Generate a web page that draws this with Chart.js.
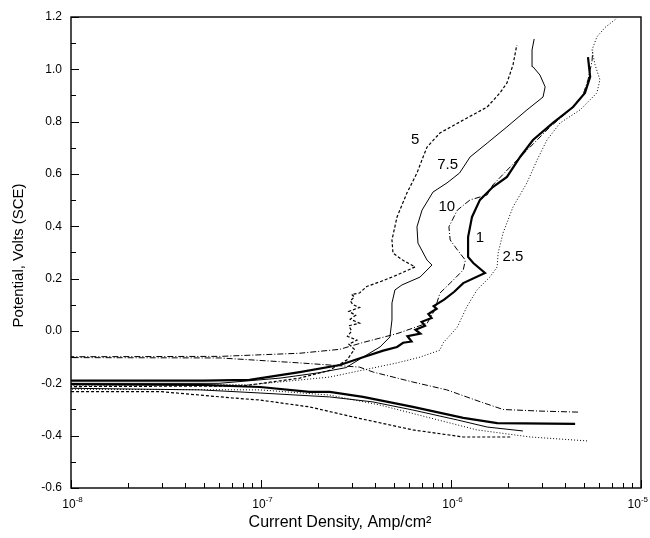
<!DOCTYPE html>
<html>
<head>
<meta charset="utf-8">
<script src="https://cdn.jsdelivr.net/npm/chart.js@4/dist/chart.umd.min.js"></script>
<style>
  html, body { margin: 0; padding: 0; background: #fff; }
</style>
</head>
<body>
<canvas id="polar" width="650" height="538"></canvas>
<script>
// potentiodynamic curves: current density (A/cm2) vs potential (V vs SCE)
// each curve runs from the end of the cathodic tail, off the left edge, then up the anodic branch
let c1I = [4.5e-6, 1.75e-6, 1.16e-6, 6.3e-7, 3.44e-7, 2.3e-7, 1.8e-7, 9.9e-8, 4.8e-8, 1e-9,
    1e-9, 5e-8, 8.7e-8, 1.6e-7, 2.6e-7, 3.44e-7, 4.4e-7, 5.2e-7, 5.6e-7, 6.2e-7, 5.9e-7, 6.9e-7,
    6.5e-7, 7.3e-7, 7.0e-7, 7.9e-7, 7.6e-7, 8.4e-7, 8.1e-7, 9.2e-7, 1.04e-6, 1.16e-6, 1.51e-6,
    1.31e-6, 1.23e-6, 1.23e-6, 1.26e-6, 1.29e-6, 1.42e-6, 1.66e-6, 1.97e-6, 2.31e-6, 2.7e-6,
    3.44e-6, 4.39e-6, 5.07e-6, 5.4e-6, 5.26e-6];
let c1V = [-0.355, -0.352, -0.332, -0.29, -0.252, -0.233, -0.233, -0.214, -0.206, -0.2,
    -0.19, -0.19, -0.187, -0.157, -0.13, -0.1, -0.075, -0.061, -0.045, -0.04, -0.02, -0.01,
    0.005, 0.02, 0.035, 0.05, 0.065, 0.085, 0.095, 0.12, 0.15, 0.183, 0.222,
    0.26, 0.283, 0.359, 0.398, 0.436, 0.501, 0.55, 0.589, 0.665, 0.73,
    0.795, 0.856, 0.91, 0.971, 1.047];

let c25I = [5.2e-6, 2.61e-6, 1.37e-6, 7.75e-7, 4.23e-7, 2.3e-7, 9.9e-8, 1e-9,
    1e-9, 9e-8, 2.3e-7, 5.2e-7, 6.87e-7, 8.75e-7, 9.08e-7, 1.08e-6, 1.21e-6, 1.37e-6, 1.6e-6,
    1.75e-6, 1.77e-6, 1.88e-6, 2.12e-6, 2.51e-6, 2.84e-6, 3.2e-6, 3.75e-6, 4.78e-6, 5.86e-6,
    6.08e-6, 5.73e-6, 5.52e-6, 5.86e-6, 6.47e-6, 7.48e-6];
let c25V = [-0.42, -0.405, -0.378, -0.332, -0.283, -0.245, -0.225, -0.22,
    -0.21, -0.205, -0.176, -0.122, -0.1, -0.073, -0.046, 0.015, 0.092, 0.157, 0.206,
    0.245, 0.298, 0.375, 0.474, 0.566, 0.654, 0.73, 0.795, 0.845, 0.91,
    0.96, 1.017, 1.074, 1.124, 1.16, 1.196];

let c5I = [2.05e-6, 1.16e-6, 6.3e-7, 3.2e-7, 1.8e-7, 9.9e-8, 7.1e-8, 4.8e-8, 3e-8, 1e-9,
    1e-9, 8e-8, 1.6e-7, 2.3e-7, 2.84e-7, 3.1e-7, 2.9e-7, 3.2e-7, 2.85e-7, 3.0e-7, 2.9e-7,
    3.3e-7, 2.95e-7, 3.15e-7, 2.9e-7, 3.3e-7, 3.05e-7, 2.95e-7, 3.1e-7, 3.0e-7, 3.3e-7,
    3.6e-7, 4.3e-7, 5.2e-7, 6.47e-7, 5.59e-7, 4.95e-7, 4.89e-7, 5.2e-7, 5.86e-7, 6.62e-7,
    7.13e-7, 7.48e-7, 8.75e-7, 1.16e-6, 1.55e-6, 1.81e-6, 1.97e-6, 2.12e-6, 2.22e-6];
let c5V = [-0.405, -0.405, -0.378, -0.332, -0.29, -0.264, -0.256, -0.245, -0.232, -0.23,
    -0.215, -0.21, -0.18, -0.15, -0.11, -0.07, -0.05, -0.035, -0.02, 0.0, 0.02,
    0.03, 0.045, 0.06, 0.075, 0.09, 0.1, 0.115, 0.13, 0.14, 0.145,
    0.17, 0.19, 0.214, 0.245, 0.27, 0.298, 0.348, 0.436, 0.527, 0.604,
    0.665, 0.703, 0.757, 0.806, 0.856, 0.91, 0.948, 1.017, 1.093];

let c75I = [2.39e-6, 1.55e-6, 1.08e-6, 6.3e-7, 3.88e-7, 2.3e-7, 9.9e-8, 4.8e-8, 1e-9,
    1e-9, 6e-8, 1.26e-7, 2.0e-7, 2.8e-7, 3.44e-7, 4.23e-7, 4.77e-7, 4.89e-7, 4.89e-7, 5.07e-7,
    5.52e-7, 6.87e-7, 7.94e-7, 7.48e-7, 6.7e-7, 6.62e-7, 7.04e-7, 8.04e-7, 9.53e-7, 1.11e-6,
    1.26e-6, 1.55e-6, 1.97e-6, 2.51e-6, 3.05e-6, 3.13e-6, 2.94e-6, 2.7e-6, 2.67e-6, 2.74e-6];
let c75V = [-0.382, -0.367, -0.34, -0.302, -0.271, -0.252, -0.237, -0.225, -0.21,
    -0.2, -0.2, -0.18, -0.16, -0.14, -0.1, -0.061, -0.023, 0.042, 0.107, 0.157,
    0.176, 0.206, 0.252, 0.271, 0.336, 0.398, 0.462, 0.531, 0.566, 0.604,
    0.665, 0.718, 0.78, 0.845, 0.894, 0.933, 0.978, 1.01, 1.074, 1.116];

let c10I = [4.66e-6, 2.94e-6, 1.88e-6, 1.42e-6, 9.5e-7, 6.3e-7, 3.9e-7, 3.3e-7, 1.6e-7, 6.1e-8, 1e-9,
    1e-9, 6.1e-8, 1.6e-7, 2.6e-7, 3.4e-7, 5.2e-7, 7.5e-7, 8.2e-7, 8.75e-7, 9.9e-7, 1.16e-6,
    1.19e-6, 1.08e-6, 9.9e-7, 9.75e-7, 1.08e-6, 1.26e-6, 1.55e-6, 1.66e-6, 2.05e-6, 2.61e-6,
    3.32e-6, 4.23e-6, 4.95e-6, 5.26e-6, 5.52e-6, 5.58e-6];
let c10V = [-0.31, -0.306, -0.3, -0.27, -0.225, -0.195, -0.157, -0.138, -0.122, -0.103, -0.1,
    -0.1, -0.097, -0.085, -0.07, -0.045, -0.01, 0.03, 0.08, 0.145, 0.183, 0.233,
    0.271, 0.31, 0.348, 0.398, 0.462, 0.501, 0.52, 0.558, 0.627, 0.703,
    0.78, 0.845, 0.902, 0.96, 1.03, 1.074];

// curve labels
let labelText = ['5', '7.5', '10', '1', '2.5'];
let labelI = [6.47e-7, 9.6e-7, 9.5e-7, 1.42e-6, 2.12e-6];
let labelV = [0.73, 0.634, 0.474, 0.355, 0.283];

// axis ticks
let decades = [1e-8, 1e-7, 1e-6, 1e-5];
let decadeExp = ['-8', '-7', '-6', '-5'];

const FONT = '"Liberation Sans", Arial, sans-serif';

function pts(xs, ys) {
    return xs.map((x, i) => ({ x: x, y: ys[i] }));
}

function curve(xs, ys, width, dash) {
    return {
        data: pts(xs, ys),
        showLine: true,
        borderColor: '#000',
        backgroundColor: '#000',
        borderWidth: width,
        borderDash: dash,
        pointRadius: 0,
        tension: 0
    };
}

// frame, inward ticks, decade labels, axis titles and curve numbers
let decorations = {
    id: 'decorations',
    afterDraw(chart) {
        let ctx = chart.ctx;
        let a = chart.chartArea;
        let xs = chart.scales.x, ys = chart.scales.y;
        ctx.save();
        ctx.strokeStyle = '#000';
        ctx.lineWidth = 1.4;
        ctx.strokeRect(a.left, a.top, a.right - a.left, a.bottom - a.top);

        ctx.lineWidth = 1;
        ctx.beginPath();
        for (let k = 0; k <= 18; k++) {
            let v = -0.6 + k * 0.1;
            let py = Math.round(ys.getPixelForValue(v)) + 0.5;
            let len = k % 2 === 0 ? 8 : 5;
            ctx.moveTo(a.left, py);
            ctx.lineTo(a.left + len, py);
        }
        for (let d = 0; d < decades.length; d++) {
            for (let m = 1; m <= 9; m++) {
                let v = decades[d] * m;
                if (v > 1e-5 * 1.0001) break;
                let px = Math.round(xs.getPixelForValue(v)) + 0.5;
                let len = m === 1 ? 8 : 5;
                ctx.moveTo(px, a.bottom);
                ctx.lineTo(px, a.bottom - len);
            }
        }
        ctx.stroke();

        // decade labels, 10 with a small raised exponent, kept inside the canvas
        ctx.fillStyle = '#000';
        ctx.textBaseline = 'alphabetic';
        ctx.textAlign = 'left';
        for (let d = 0; d < decades.length; d++) {
            let px = xs.getPixelForValue(decades[d]);
            ctx.font = '12px ' + FONT;
            let w = ctx.measureText('10').width;
            ctx.font = '8px ' + FONT;
            let we = ctx.measureText(decadeExp[d]).width;
            let x0 = Math.min(px - w / 2 - 2, chart.width - 2 - w - we);
            ctx.font = '12px ' + FONT;
            ctx.fillText('10', x0, a.bottom + 20);
            ctx.font = '8px ' + FONT;
            ctx.fillText(decadeExp[d], x0 + w, a.bottom + 14);
        }

        // axis titles
        ctx.font = '16px ' + FONT;
        ctx.textAlign = 'center';
        ctx.fillText('Current Density, Amp/cm²', 340, 527);
        ctx.save();
        ctx.translate(23, (a.top + a.bottom) / 2 + 3);
        ctx.rotate(-Math.PI / 2);
        ctx.font = '15px ' + FONT;
        ctx.fillText('Potential, Volts (SCE)', 0, 0);
        ctx.restore();

        ctx.font = '15px ' + FONT;
        ctx.textAlign = 'center';
        ctx.textBaseline = 'middle';
        for (let i = 0; i < labelText.length; i++) {
            ctx.fillText(labelText[i], xs.getPixelForValue(labelI[i]), ys.getPixelForValue(labelV[i]));
        }
        ctx.restore();
    }
};

new Chart(document.getElementById('polar').getContext('2d'), {
    type: 'scatter',
    data: {
        datasets: [
            curve(c1I, c1V, 2.2, []),
            curve(c25I, c25V, 1, [1, 2]),
            curve(c5I, c5V, 1.2, [3, 2]),
            curve(c75I, c75V, 1, []),
            curve(c10I, c10V, 1, [6, 2, 1, 2])
        ]
    },
    options: {
        responsive: false,
        animation: false,
        devicePixelRatio: 1,
        layout: { padding: { left: 0, right: 9, top: 17, bottom: 0 } },
        plugins: {
            legend: { display: false },
            tooltip: { enabled: false }
        },
        scales: {
            x: {
                type: 'logarithmic',
                min: 1e-8,
                max: 1e-5,
                grid: { display: false, drawTicks: false },
                border: { display: false },
                ticks: { display: false },
                afterFit: s => { s.height = 50; }
            },
            y: {
                min: -0.6,
                max: 1.2,
                grid: { display: false, drawTicks: false },
                border: { display: false },
                ticks: {
                    stepSize: 0.2,
                    padding: 9,
                    color: '#000',
                    font: { family: FONT, size: 12 },
                    callback: v => v.toFixed(1)
                },
                afterFit: s => { s.width = 71; }
            }
        }
    },
    plugins: [decorations]
});
</script>
</body>
</html>
